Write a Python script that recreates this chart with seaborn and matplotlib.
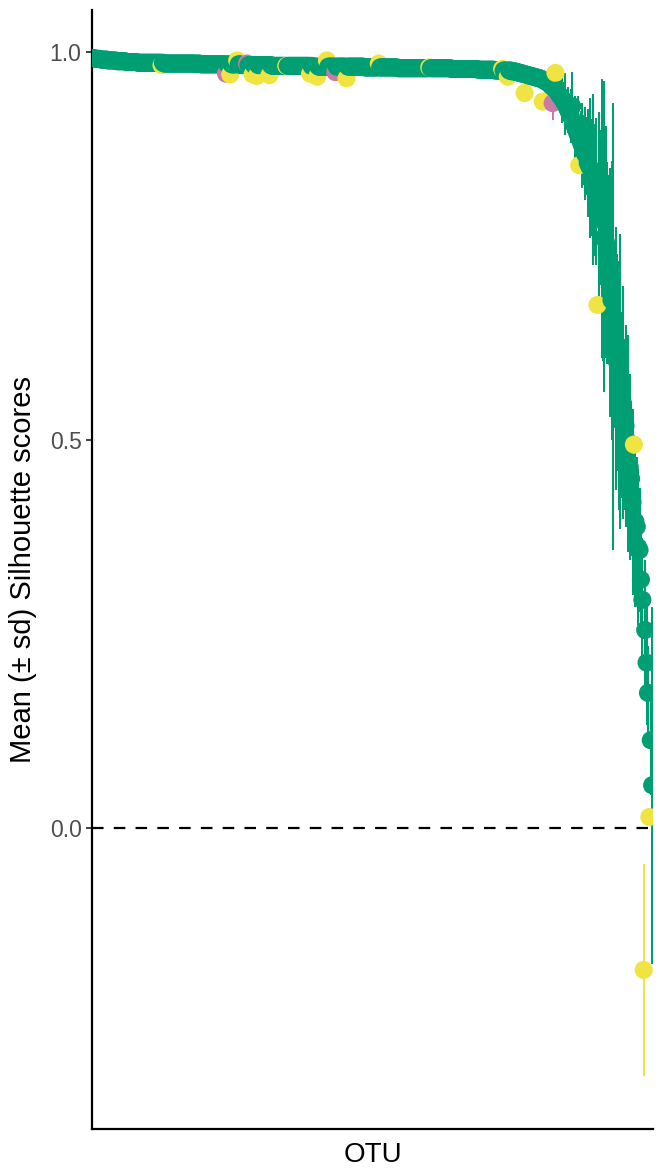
import numpy as np
import pandas as pd
import matplotlib
matplotlib.use("Agg")
import matplotlib.pyplot as plt
import seaborn as sns

# ---- data ----
plateau_mean = [
    0.992, 0.992, 0.991, 0.991, 0.991, 0.991, 0.990, 0.990, 0.990, 0.990, 0.990, 0.989, 0.989, 0.989, 0.989, 0.989, 0.989, 0.988, 0.988, 0.988,
    0.988, 0.988, 0.988, 0.988, 0.987, 0.987, 0.987, 0.987, 0.987, 0.987, 0.987, 0.987, 0.986, 0.986, 0.986, 0.986, 0.986, 0.986, 0.986, 0.986,
    0.986, 0.986, 0.986, 0.986, 0.986, 0.986, 0.986, 0.986, 0.986, 0.983, 0.986, 0.985, 0.985, 0.985, 0.985, 0.985, 0.985, 0.985, 0.985, 0.985,
    0.985, 0.985, 0.985, 0.985, 0.985, 0.985, 0.985, 0.985, 0.985, 0.985, 0.985, 0.985, 0.985, 0.985, 0.984, 0.985, 0.985, 0.984, 0.984, 0.984,
    0.984, 0.984, 0.984, 0.984, 0.984, 0.984, 0.984, 0.984, 0.984, 0.984, 0.984, 0.984, 0.984, 0.984, 0.984, 0.972, 0.984, 0.984, 0.971, 0.984,
    0.984, 0.984, 0.984, 0.989, 0.984, 0.984, 0.983, 0.983, 0.983, 0.983, 0.985, 0.983, 0.983, 0.983, 0.971, 0.983, 0.983, 0.969, 0.983, 0.983,
    0.983, 0.983, 0.983, 0.983, 0.983, 0.983, 0.970, 0.983, 0.982, 0.982, 0.982, 0.982, 0.982, 0.982, 0.982, 0.982, 0.982, 0.982, 0.982, 0.982,
    0.982, 0.982, 0.982, 0.982, 0.982, 0.982, 0.982, 0.982, 0.982, 0.982, 0.982, 0.982, 0.982, 0.982, 0.982, 0.972, 0.982, 0.981, 0.981, 0.981,
    0.968, 0.981, 0.981, 0.981, 0.981, 0.981, 0.981, 0.989, 0.981, 0.981, 0.981, 0.981, 0.981, 0.974, 0.981, 0.981, 0.981, 0.981, 0.981, 0.981,
    0.981, 0.966, 0.981, 0.981, 0.981, 0.981, 0.981, 0.981, 0.981, 0.981, 0.981, 0.981, 0.981, 0.981, 0.980, 0.980, 0.980, 0.980, 0.980, 0.980,
    0.980, 0.980, 0.980, 0.980, 0.985, 0.980, 0.980, 0.980, 0.980, 0.980, 0.980, 0.980, 0.980, 0.980, 0.980, 0.980, 0.980, 0.980, 0.979, 0.979,
    0.979, 0.979, 0.979, 0.979, 0.979, 0.979, 0.979, 0.979, 0.979, 0.979, 0.979, 0.979, 0.979, 0.979, 0.979, 0.979, 0.979, 0.979, 0.979, 0.979,
    0.980, 0.979, 0.979, 0.979, 0.979, 0.979, 0.979, 0.979, 0.979, 0.979, 0.979, 0.979, 0.979, 0.979, 0.979, 0.979, 0.978, 0.978, 0.978, 0.978,
    0.978, 0.978, 0.978, 0.978, 0.978, 0.978, 0.978, 0.978, 0.978, 0.978, 0.978, 0.978, 0.978, 0.978, 0.978, 0.977, 0.977, 0.977, 0.977, 0.977,
    0.977, 0.977, 0.977, 0.977, 0.977, 0.977, 0.977, 0.976, 0.976, 0.976, 0.976, 0.976, 0.978, 0.976, 0.976, 0.976, 0.968, 0.976, 0.976, 0.975,
    0.975, 0.975, 0.974, 0.974, 0.973, 0.973, 0.972, 0.972, 0.947, 0.971, 0.970, 0.970, 0.969, 0.969, 0.968, 0.968, 0.967, 0.967, 0.966, 0.966,
]
plateau_sd = [
    0.002, 0.002, 0.002, 0.002, 0.002, 0.002, 0.002, 0.002, 0.002, 0.002, 0.002, 0.002, 0.002, 0.002, 0.002, 0.002, 0.002, 0.002, 0.002, 0.002,
    0.002, 0.002, 0.002, 0.002, 0.002, 0.002, 0.002, 0.002, 0.002, 0.002, 0.002, 0.002, 0.002, 0.002, 0.002, 0.002, 0.002, 0.002, 0.002, 0.002,
    0.002, 0.002, 0.002, 0.002, 0.002, 0.002, 0.002, 0.002, 0.002, 0.003, 0.002, 0.002, 0.002, 0.002, 0.002, 0.002, 0.002, 0.002, 0.002, 0.002,
    0.002, 0.002, 0.002, 0.002, 0.002, 0.002, 0.002, 0.002, 0.002, 0.002, 0.002, 0.002, 0.002, 0.002, 0.002, 0.002, 0.002, 0.002, 0.002, 0.002,
    0.002, 0.002, 0.002, 0.002, 0.002, 0.002, 0.002, 0.002, 0.002, 0.002, 0.002, 0.002, 0.002, 0.002, 0.002, 0.006, 0.002, 0.002, 0.005, 0.002,
    0.002, 0.002, 0.002, 0.004, 0.002, 0.002, 0.002, 0.002, 0.002, 0.002, 0.005, 0.002, 0.002, 0.002, 0.005, 0.002, 0.002, 0.005, 0.002, 0.002,
    0.002, 0.002, 0.002, 0.002, 0.002, 0.002, 0.005, 0.002, 0.002, 0.002, 0.002, 0.002, 0.002, 0.002, 0.002, 0.002, 0.002, 0.002, 0.004, 0.002,
    0.002, 0.002, 0.002, 0.002, 0.002, 0.002, 0.002, 0.002, 0.002, 0.002, 0.002, 0.002, 0.002, 0.002, 0.002, 0.005, 0.002, 0.002, 0.002, 0.002,
    0.005, 0.002, 0.002, 0.002, 0.002, 0.002, 0.002, 0.004, 0.002, 0.002, 0.002, 0.002, 0.002, 0.006, 0.002, 0.002, 0.002, 0.002, 0.002, 0.002,
    0.002, 0.005, 0.002, 0.002, 0.002, 0.002, 0.002, 0.002, 0.002, 0.002, 0.002, 0.002, 0.002, 0.002, 0.002, 0.002, 0.002, 0.002, 0.002, 0.002,
    0.002, 0.002, 0.002, 0.002, 0.004, 0.002, 0.002, 0.002, 0.002, 0.002, 0.002, 0.002, 0.002, 0.002, 0.002, 0.002, 0.002, 0.002, 0.002, 0.002,
    0.002, 0.002, 0.002, 0.002, 0.002, 0.002, 0.002, 0.002, 0.002, 0.002, 0.002, 0.002, 0.002, 0.002, 0.002, 0.002, 0.002, 0.002, 0.002, 0.002,
    0.004, 0.002, 0.002, 0.002, 0.002, 0.002, 0.002, 0.002, 0.002, 0.002, 0.002, 0.002, 0.002, 0.002, 0.002, 0.002, 0.002, 0.002, 0.002, 0.002,
    0.002, 0.002, 0.002, 0.002, 0.002, 0.002, 0.002, 0.002, 0.002, 0.002, 0.002, 0.002, 0.002, 0.002, 0.003, 0.003, 0.003, 0.003, 0.003, 0.003,
    0.003, 0.003, 0.003, 0.003, 0.003, 0.003, 0.003, 0.003, 0.003, 0.003, 0.003, 0.003, 0.004, 0.003, 0.003, 0.003, 0.005, 0.003, 0.003, 0.003,
    0.003, 0.003, 0.003, 0.003, 0.004, 0.004, 0.004, 0.004, 0.006, 0.004, 0.004, 0.004, 0.004, 0.004, 0.005, 0.005, 0.005, 0.004, 0.005, 0.005,
]
drop_mean = [
    0.965, 0.936, 0.963, 0.962, 0.961, 0.960, 0.958, 0.956, 0.934, 0.953,
    0.973, 0.950, 0.947, 0.944, 0.942, 0.939, 0.936, 0.933, 0.929, 0.925,
    0.921, 0.917, 0.930, 0.908, 0.903, 0.898, 0.893, 0.854, 0.884, 0.879,
    0.874, 0.869, 0.866, 0.857, 0.853, 0.850, 0.838, 0.836, 0.822, 0.820,
    0.674, 0.803, 0.800, 0.785, 0.782, 0.762, 0.755, 0.728, 0.722, 0.690,
    0.680, 0.646, 0.635, 0.605, 0.600, 0.570, 0.575, 0.545, 0.548, 0.520,
    0.518, 0.500, 0.495, 0.465, 0.450, 0.420, 0.494, 0.395, 0.388, 0.362,
    0.358, 0.320, 0.294, -0.183, 0.255, 0.213, 0.174, 0.014, 0.113, 0.055,
]
drop_sd = [
    0.005, 0.005, 0.006, 0.008, 0.006, 0.010, 0.008, 0.012, 0.022, 0.010,
    0.004, 0.014, 0.012, 0.020, 0.016, 0.030, 0.025, 0.040, 0.020, 0.030,
    0.025, 0.035, 0.044, 0.030, 0.040, 0.035, 0.050, 0.010, 0.040, 0.055,
    0.045, 0.060, 0.050, 0.070, 0.060, 0.090, 0.075, 0.110, 0.085, 0.095,
    0.010, 0.120, 0.100, 0.180, 0.180, 0.200, 0.150, 0.130, 0.120, 0.160,
    0.180, 0.288, 0.120, 0.170, 0.140, 0.160, 0.190, 0.120, 0.150, 0.110,
    0.130, 0.100, 0.140, 0.120, 0.100, 0.120, 0.012, 0.110, 0.090, 0.100,
    0.080, 0.070, 0.080, 0.137, 0.090, 0.080, 0.060, 0.010, 0.070, 0.230,
]
yellow_idx = [49, 98, 103, 114, 117, 126, 138, 155, 160, 167, 181, 204, 240,
              292, 296, 308, 321, 330, 347, 360, 386, 393, 397]
pink_idx = [95, 110, 173, 328]

group_colors = {"a": "#009E73", "b": "#F0E442", "c": "#CC79A7"}

# ---- assemble ----
means = plateau_mean + drop_mean
sds = plateau_sd + drop_sd
n = len(means)
groups = ["a"] * n
for i in yellow_idx:
    groups[i] = "b"
for i in pink_idx:
    groups[i] = "c"
df = pd.DataFrame({"otu": np.arange(n), "mean": means, "sd": sds, "group": groups})
df["lo"] = df["mean"] - df["sd"]
df["hi"] = df["mean"] + df["sd"]

sns.set_theme(style="white")
plt.rcParams["font.family"] = ["Liberation Sans", "DejaVu Sans"]

W, H = 668, 1169
fig = plt.figure(figsize=(W / 100, H / 100), dpi=100)
ax = fig.add_axes([92 / W, 1 - 1129 / H, (653 - 92) / W, (1129 - 10) / H])

ax.vlines(df["otu"], df["lo"], df["hi"], colors=[group_colors[g] for g in df["group"]],
          linewidth=1.45, zorder=2)
sns.scatterplot(data=df, x="otu", y="mean", hue="group", palette=group_colors,
                s=170, linewidth=0, alpha=1, legend=False, ax=ax, zorder=3)
ax.axhline(0, color="black", linewidth=1.6, linestyle=(0, (5.2, 4.6)), zorder=4)

ax.set_xlim(-0.6, n - 1 + 0.6)
ax.set_ylim(-0.388, 1.054)
ax.set_xticks([])
ax.set_yticks([0.0, 0.5, 1.0])
ax.set_yticklabels(["0.0", "0.5", "1.0"])
ax.tick_params(axis="y", length=4.5, width=1.3, color="#333333", labelcolor="#4D4D4D",
               labelsize=16.5, pad=3, left=True)
ax.set_xlabel("OTU", fontsize=20, color="black", labelpad=9)
ax.set_ylabel("Mean (± sd) Silhouette scores", fontsize=21, color="black", labelpad=9)
for side in ["top", "right"]:
    ax.spines[side].set_visible(False)
for side in ["left", "bottom"]:
    ax.spines[side].set_color("black")
    ax.spines[side].set_linewidth(1.6)
ax.grid(False)

fig.savefig("out.png", dpi=100)
